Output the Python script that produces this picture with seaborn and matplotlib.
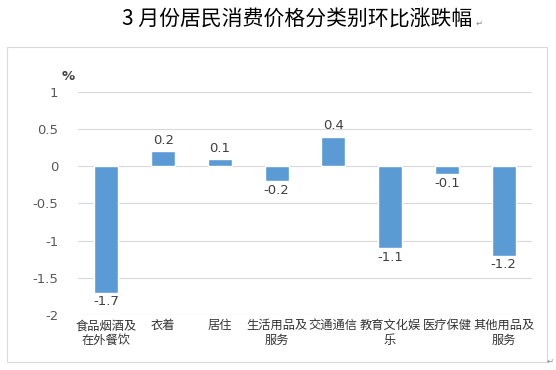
import matplotlib
matplotlib.use("Agg")
import matplotlib.pyplot as plt
import seaborn as sns
import pandas as pd
from matplotlib.patches import Rectangle

categories = ["食品烟酒及\n在外餐饮", "衣着", "居住", "生活用品及\n服务", "交通通信", "教育文化娱\n乐", "医疗保健", "其他用品及\n服务"]
values = [-1.7, 0.2, 0.1, -0.2, 0.4, -1.1, -0.1, -1.2]
yticks = [1, 0.5, 0, -0.5, -1, -1.5, -2]
ytick_labels = ["1", "0.5", "0", "-0.5", "-1", "-1.5", "-2"]
title = "3 月份居民消费价格分类别环比涨跌幅"

sns.set_theme(style="white")
plt.rcParams['font.family'] = ['Noto Sans CJK SC', 'DejaVu Sans']

df = pd.DataFrame({"cat": categories, "val": values})

fig = plt.figure(figsize=(5.56, 3.70), dpi=100)
W, H = 556, 370
ax = fig.add_axes([78 / W, 1 - 315 / H, (532 - 78) / W, (315 - 92) / H])

sns.barplot(data=df, x="cat", y="val", color="#5B9BD5", saturation=1, width=0.42, ax=ax)
ax.set_ylim(-2, 1)
ax.set_xlim(-0.5, len(categories) - 0.5)
ax.set_yticks(yticks)
ax.set_yticklabels(ytick_labels, color="#595959", fontsize=9.5, family=['DejaVu Sans'])
ax.set_xticks(range(len(categories)))
ax.set_xticklabels(categories, color="#333333", fontsize=8.8, linespacing=1.2)
ax.tick_params(axis="both", length=0, pad=3)
ax.tick_params(axis="y", pad=14)
ax.set_xlabel("")
ax.set_ylabel("")
for s in ax.spines.values():
    s.set_visible(False)
ax.yaxis.grid(True, color="#D9D9D9", linewidth=0.8)
ax.set_axisbelow(True)

for i, v in enumerate(values):
    if v >= 0:
        ax.annotate(f"{v:g}", (i, v), xytext=(0, 3), textcoords="offset points",
                    ha="center", va="bottom", fontsize=9.5, color="#404040", family=['DejaVu Sans'])
    else:
        ax.annotate(f"{v:g}", (i, v), xytext=(0, -2), textcoords="offset points",
                    ha="center", va="top", fontsize=9.5, color="#404040", family=['DejaVu Sans'])

fig.text(68 / W, 1 - 77 / H, "%", ha="center", va="center", fontsize=9.5,
         color="#404040", fontweight="bold", family=['DejaVu Sans'])

fig.patches.append(Rectangle((7 / W, 1 - 362 / H), (547 - 7) / W, (362 - 47) / H,
                             transform=fig.transFigure, fill=False,
                             edgecolor="#D9D9D9", linewidth=0.8))

fig.text(297 / W, 1 - 19 / H, title, ha="center", va="center", fontsize=15, color="#000000")
fig.text(476 / W, 1 - 23 / H, "↵", ha="left", va="center", fontsize=6, color="#888888", family=['DejaVu Sans'])
fig.text(547 / W, 1 - 361 / H, "↵", ha="left", va="center", fontsize=6, color="#888888", family=['DejaVu Sans'])

fig.savefig("out.png", dpi=100, facecolor="white")
